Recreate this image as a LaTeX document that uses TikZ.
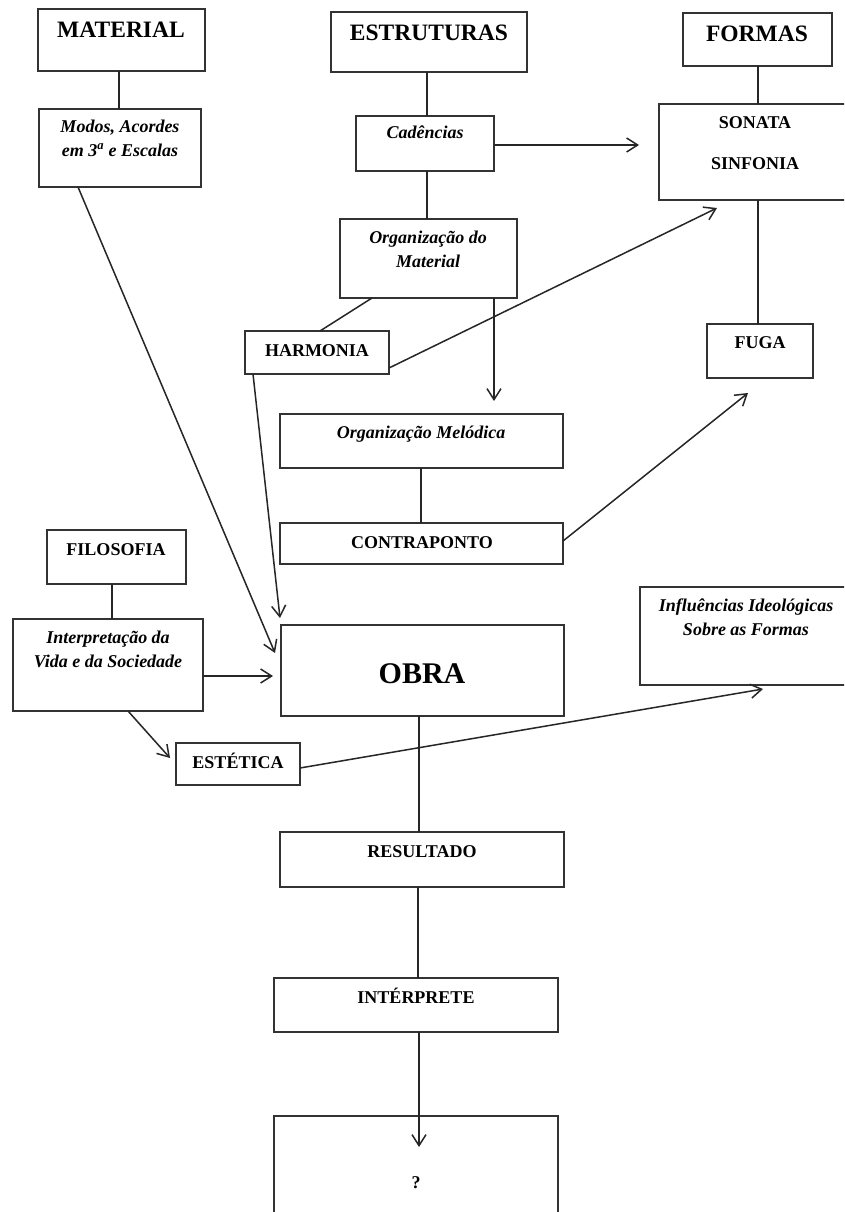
\documentclass[tikz,border=0pt]{standalone}
\usepackage{fontspec}
\setmainfont{Liberation Serif}
\usetikzlibrary{arrows.meta,calc}
\begin{document}
\begin{tikzpicture}[x=1pt,y=-1pt,
 box/.style={draw=black!80, line width=1.4pt, inner sep=0pt, outer sep=0pt, anchor=north west},
 lbl/.style={inner sep=0pt, anchor=base, align=center, font=\fontsize{18}{23.5}\selectfont\bfseries},
 ilbl/.style={lbl, font=\fontsize{18}{23.5}\selectfont\bfseries\itshape},
 ttl/.style={lbl, font=\fontsize{23.5}{28}\selectfont\bfseries},
 big/.style={lbl, font=\fontsize{30}{36}\selectfont\bfseries},
 conn/.style={line width=1.5pt, draw=black!85},
 arr/.style={conn, -{Straight Barb[length=11pt,width=14pt]}}]
\useasboundingbox (0,0) rectangle (844,1212);
\fill[white] (0,0) rectangle (844,1212);
\clip (0,0) rectangle (844,1212);

% boxes
\node[box, minimum width=167pt, minimum height=62pt] (mat) at (38,9) {};
\node[box, minimum width=196pt, minimum height=60pt] (estr) at (331,12) {};
\node[box, minimum width=149pt, minimum height=53pt] (formas) at (683,13) {};
\node[box, minimum width=162pt, minimum height=78pt] (modos) at (39,109) {};
\node[box, minimum width=138pt, minimum height=55pt] (cad) at (356,116) {};
\node[box, minimum width=193pt, minimum height=96pt] (sonata) at (659,104) {};
\node[box, minimum width=177pt, minimum height=79pt] (orgmat) at (340,219) {};
\node[box, minimum width=144pt, minimum height=43pt] (harm) at (245,331) {};
\node[box, minimum width=106pt, minimum height=54pt] (fuga) at (707,324) {};
\node[box, minimum width=283pt, minimum height=54pt] (orgmel) at (280,414) {};
\node[box, minimum width=283pt, minimum height=41pt] (contra) at (280,523) {};
\node[box, minimum width=139pt, minimum height=54pt] (filo) at (47,530) {};
\node[box, minimum width=190pt, minimum height=92pt] (interp) at (13,619) {};
\node[box, minimum width=283pt, minimum height=91pt] (obra) at (281,625) {};
\node[box, minimum width=212pt, minimum height=98pt] (infl) at (640,587) {};
\node[box, minimum width=124pt, minimum height=42pt] (estet) at (176,743) {};
\node[box, minimum width=284pt, minimum height=55pt] (result) at (280,832) {};
\node[box, minimum width=284pt, minimum height=54pt] (interpr) at (274,978) {};
\node[box, minimum width=284pt, minimum height=114pt] (quest) at (274,1116) {};

% texts (base anchor = baseline of the last line)
\node[ttl] (matT) at (121,38) {MATERIAL};
\node[ttl] (estrT) at (429,41) {ESTRUTURAS};
\node[ttl] (formasT) at (757,42) {FORMAS};
\node[ilbl] (modosT) at (120,156) {Modos, Acordes\\em 3\textsuperscript{a} e Escalas};
\node[ilbl] (cadT) at (425,139) {Cadências};
\node[lbl] (sonataT) at (755,169) {SONATA\\[17.5pt]SINFONIA};
\node[ilbl] (orgmatT) at (428,267) {Organização do\\Material};
\node[lbl] (harmT) at (317,356) {HARMONIA};
\node[lbl] (fugaT) at (760,348) {FUGA};
\node[ilbl] (orgmelT) at (421,438) {Organização Melódica};
\node[lbl] (contraT) at (422,548) {CONTRAPONTO};
\node[lbl] (filoT) at (116,555) {FILOSOFIA};
\node[ilbl] (interpT) at (108,667) {Interpretação da\\Vida e da Sociedade};
\node[big] (obraT) at (422,683) {OBRA};
\node[ilbl] (inflT) at (746,635) {Influências Ideológicas\\Sobre as Formas};
\node[lbl] (estetT) at (238,768) {ESTÉTICA};
\node[lbl] (resultT) at (422,857) {RESULTADO};
\node[lbl] (interprT) at (416,1003) {INTÉRPRETE};
\node[lbl] (questT) at (416,1188) {?};

% connectors
\draw[conn] ($(mat.south west)+(81,0)$) -- ($(modos.north west)+(80,0)$);
\draw[conn] ($(estr.south west)+(96,0)$) -- ($(cad.north west)+(71,0)$);
\draw[conn] ($(cad.south west)+(71,0)$) -- ($(orgmat.north west)+(87,0)$);
\draw[arr] ($(cad.north east)+(0,29)$) -- ($(sonata.north west)+(-20,41)$);
\draw[conn] ($(formas.south west)+(75,0)$) -- ($(sonata.north west)+(99,0)$);
\draw[conn] ($(sonata.south west)+(99,0)$) -- ($(fuga.north west)+(51,0)$);
\draw[conn] ($(orgmat.south west)+(32,0)$) -- ($(harm.north west)+(75,0)$);
\draw[arr] ($(orgmat.south east)+(-23,0)$) -- ($(orgmel.north west)+(214,-13)$);
\draw[arr] ($(harm.north east)+(0,37)$) -- ($(sonata.south west)+(58,8)$);
\draw[arr] ($(harm.south west)+(8,0)$) -- ($(obra.north west)+(-1,-7)$);
\draw[arr] ($(modos.south west)+(39,0)$) -- ($(obra.north west)+(-6,28)$);
\draw[conn] ($(orgmel.south west)+(141,0)$) -- ($(contra.north west)+(141,0)$);
\draw[arr] ($(contra.north east)+(0,18)$) -- ($(fuga.south west)+(41,15)$);
\draw[conn] ($(filo.south west)+(65,0)$) -- ($(interp.north west)+(99,0)$);
\draw[arr] ($(interp.north east)+(0,57)$) -- ($(obra.north west)+(-8,51)$);
\draw[arr] ($(interp.south west)+(115,0)$) -- ($(estet.north west)+(-6,15)$);
\draw[arr] ($(estet.north east)+(0,25)$) -- ($(infl.south west)+(123,4)$);
\draw[conn] ($(obra.south west)+(138,0)$) -- ($(result.north west)+(139,0)$);
\draw[conn] ($(result.south west)+(138,0)$) -- ($(interpr.north west)+(144,0)$);
\draw[arr] ($(interpr.south west)+(145,0)$) -- ($(quest.north west)+(145,31)$);
\end{tikzpicture}
\end{document}
